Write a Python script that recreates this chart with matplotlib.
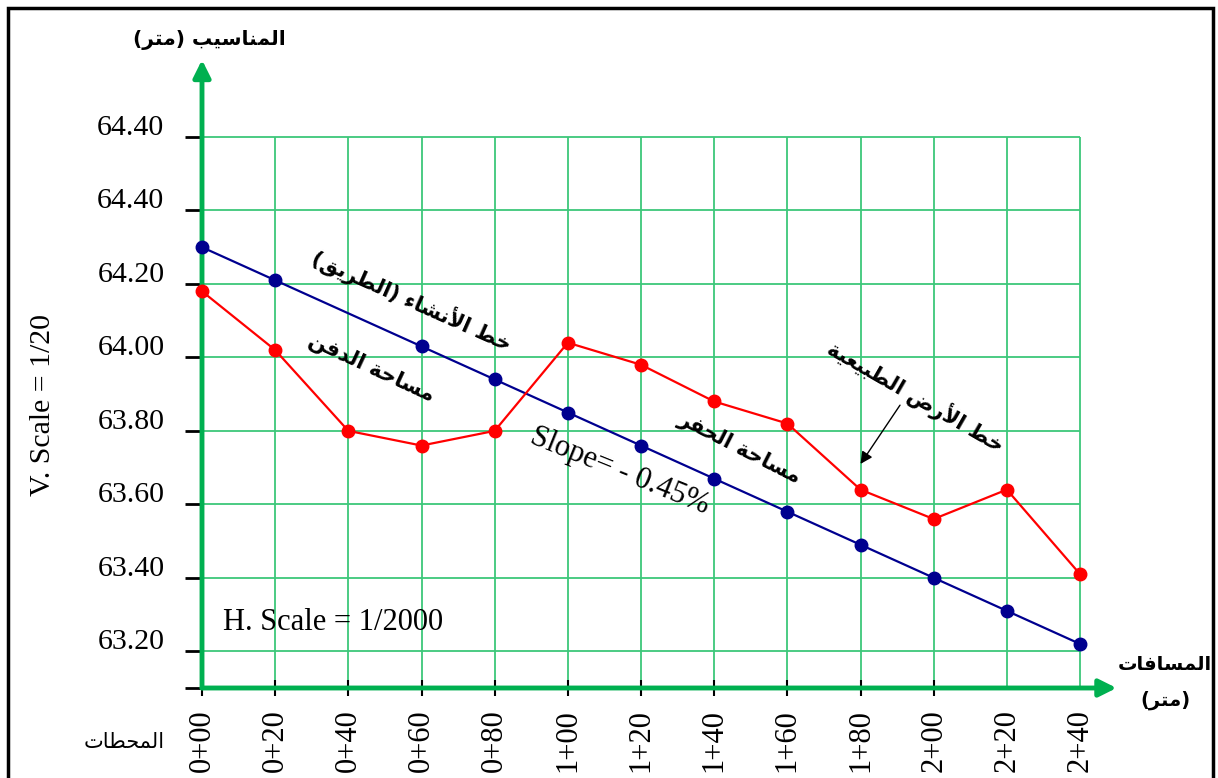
import matplotlib
matplotlib.use("Agg")
import matplotlib.pyplot as plt
from matplotlib.patches import Rectangle

# ---------------- data ----------------
stations = [0, 20, 40, 60, 80, 100, 120, 140, 160, 180, 200, 220, 240]
station_labels = ["0+00", "0+20", "0+40", "0+60", "0+80", "1+00", "1+20",
                  "1+40", "1+60", "1+80", "2+00", "2+20", "2+40"]
design_level = [64.30, 64.21, 64.12, 64.03, 63.94, 63.85, 63.76,
                63.67, 63.58, 63.49, 63.40, 63.31, 63.22]
design_marked = [0, 1, 3, 4, 5, 6, 7, 8, 9, 10, 11, 12]  # 0+40 has no dot
ground_level = [64.18, 64.02, 63.80, 63.76, 63.80, 64.04, 63.98,
                63.88, 63.82, 63.64, 63.56, 63.64, 63.41]
y_grid = [63.2, 63.4, 63.6, 63.8, 64.0, 64.2, 64.4, 64.6]
y_labels = ["63.20", "63.40", "63.60", "63.80", "64.00", "64.20", "64.40", "64.40"]
y_base = 63.1

# ---------------- simple Arabic shaping ----------------
AR_FORMS = {
    '\u0621': (0xFE80, 'U'), '\u0623': (0xFE83, 'R'), '\u0627': (0xFE8D, 'R'),
    '\u0628': (0xFE8F, 'D'), '\u0629': (0xFE93, 'R'), '\u062A': (0xFE95, 'D'),
    '\u062D': (0xFEA1, 'D'), '\u062E': (0xFEA5, 'D'), '\u062F': (0xFEA9, 'R'),
    '\u0631': (0xFEAD, 'R'), '\u0633': (0xFEB1, 'D'), '\u0634': (0xFEB5, 'D'),
    '\u0636': (0xFEBD, 'D'), '\u0637': (0xFEC1, 'D'), '\u0639': (0xFEC9, 'D'),
    '\u0641': (0xFED1, 'D'), '\u0642': (0xFED5, 'D'), '\u0644': (0xFEDD, 'D'),
    '\u0645': (0xFEE1, 'D'), '\u0646': (0xFEE5, 'D'), '\u064A': (0xFEF1, 'D'),
}
LAM_ALEF = {'\u0627': 0xFEFB, '\u0623': 0xFEF7}


def ar(text):
    chars = list(text)
    units = []
    i = 0
    while i < len(chars):
        c = chars[i]
        if c == '\u0644' and i + 1 < len(chars) and chars[i + 1] in LAM_ALEF:
            units.append(('LA', LAM_ALEF[chars[i + 1]]))
            i += 2
        else:
            units.append((c, None))
            i += 1

    def jt(u):
        if u[0] == 'LA':
            return 'R'
        f = AR_FORMS.get(u[0])
        return f[1] if f else None

    res = []
    for k, u in enumerate(units):
        t = jt(u)
        if t is None:
            res.append(u[0])
            continue
        prev = jt(units[k - 1]) if k > 0 else None
        nxt = jt(units[k + 1]) if k + 1 < len(units) else None
        jp = prev == 'D' and t in ('R', 'D')
        jn = t == 'D' and nxt in ('R', 'D')
        if u[0] == 'LA':
            res.append(chr(u[1] + (1 if jp else 0)))
            continue
        base = AR_FORMS[u[0]][0]
        if t == 'U':
            res.append(chr(base))
        elif t == 'R':
            res.append(chr(base + (1 if jp else 0)))
        else:
            off = 3 if (jp and jn) else 1 if jp else 2 if jn else 0
            res.append(chr(base + off))
    s = ''.join(res)[::-1]
    return s.translate(str.maketrans('()', ')('))


# ---------------- figure ----------------
W, H = 1218, 778
fig = plt.figure(figsize=(W / 100, H / 100), dpi=100)
fig.patch.set_facecolor('white')

SERIF = 'Liberation Serif'
ARF = 'DejaVu Sans'
GREEN_AX = '#00B050'
GREEN_GRID = '#3DC77A'
BLUE = '#00008F'
RED = '#FF0000'

ax = fig.add_axes([202 / W, 1 - 688 / H, 878 / W, 551 / H])
ax.set_xlim(0, 240)
ax.set_ylim(y_base, 64.6)
ax.set_facecolor('none')
for sp in ax.spines.values():
    sp.set_visible(False)

# grid
ax.hlines(y_grid, 0, 240, colors=GREEN_GRID, lw=1.3, zorder=1, clip_on=False)
ax.vlines(stations[1:], y_base, 64.6, colors=GREEN_GRID, lw=1.3, zorder=1,
          clip_on=False)

# axes arrows
ax.annotate('', xy=(250, y_base), xytext=(0, y_base), annotation_clip=False,
            arrowprops=dict(arrowstyle='-|>', color=GREEN_AX, lw=3.5,
                            mutation_scale=26, shrinkA=0, shrinkB=0), zorder=3)
ax.annotate('', xy=(0, 64.81), xytext=(0, y_base), annotation_clip=False,
            arrowprops=dict(arrowstyle='-|>', color=GREEN_AX, lw=3.5,
                            mutation_scale=26, shrinkA=0, shrinkB=0), zorder=3)

# ticks
ax.set_yticks([y_base] + y_grid)
ax.tick_params(axis='y', length=12.5, width=2, color='black', direction='out',
               labelleft=False)
ax.set_xticks(stations)
ax.set_xticklabels(station_labels, rotation=90, fontsize=22, family=SERIF)
ax.tick_params(axis='x', length=11, width=1.5, color='black', direction='inout',
               pad=10)
for t in ax.xaxis.get_major_ticks()[11:]:
    t.tick1line.set_visible(False)

for v, lab in zip(y_grid, y_labels):
    ax.annotate(lab, xy=(0, v), xytext=(-27, 6.5), textcoords='offset points',
                ha='right', va='center', fontsize=21.5, family=SERIF,
                annotation_clip=False)

# lines
ax.plot(stations, design_level, color=BLUE, lw=1.6, marker='o', ms=9,
        markevery=design_marked, zorder=5, clip_on=False)
ax.plot(stations, ground_level, color=RED, lw=1.6, marker='o', ms=9,
        zorder=5, clip_on=False)

# in-plot annotations
ax.text(57.4, 64.155, ar('خط الأنشاء (الطريق)'), rotation=-24, ha='center',
        va='center', fontsize=15, family=ARF, weight='bold', rotation_mode='anchor')
ax.text(46.2, 63.97, ar('مساحة الدفن'), rotation=-25, ha='center',
        va='center', fontsize=15, family=ARF, weight='bold', rotation_mode='anchor')
ax.text(147, 63.752, ar('مساحة الحفر'), rotation=-27, ha='center',
        va='center', fontsize=15, family=ARF, weight='bold', rotation_mode='anchor')
ax.text(195.2, 63.894, ar('خط الأرض الطبيعية'), rotation=-30, ha='center',
        va='center', fontsize=15, family=ARF, weight='bold', rotation_mode='anchor')
ax.text(114.3, 63.69, 'Slope= - 0.45%', rotation=-22, ha='center', va='center',
        fontsize=22, family=SERIF, rotation_mode='anchor')
ax.text(5.7, 63.279, 'H. Scale = 1/2000', ha='left', va='center',
        fontsize=22, family=SERIF)
ax.annotate('', xy=(180, 63.71), xytext=(190.8, 63.87),
            arrowprops=dict(arrowstyle='-|>', color='black', lw=1,
                            mutation_scale=18, shrinkA=0, shrinkB=0), zorder=6)

# outside texts (figure pixel positions)
def fx(x):
    return x / W


def fy(y):
    return 1 - y / H


fig.text(fx(209), fy(40), ar('المناسيب (متر)'), ha='center', va='center',
         fontsize=14.5, family=ARF, weight='bold')
fig.text(fx(1165), fy(665), ar('المسافات'), ha='center', va='center',
         fontsize=14, family=ARF, weight='bold')
fig.text(fx(1165), fy(700), ar('(متر)'), ha='center', va='center',
         fontsize=14, family=ARF, weight='bold')
fig.text(fx(165), fy(742), ar('المحطات'), ha='right', va='center',
         fontsize=15, family=ARF)
fig.text(fx(43), fy(405), 'V. Scale = 1/20', rotation=90, ha='center',
         va='center', fontsize=21.5, family=SERIF)

# border
fig.patches.append(Rectangle((fx(8), fy(820)), fx(1213) - fx(8), fy(7.5) - fy(820),
                             transform=fig.transFigure, fill=False,
                             edgecolor='black', lw=2.5))

fig.savefig('out.png', dpi=100)
